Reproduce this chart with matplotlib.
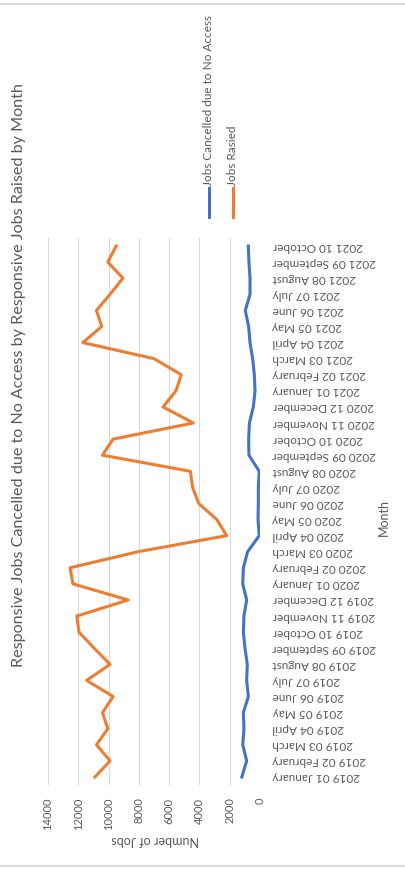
import matplotlib
matplotlib.use("Agg")
import matplotlib.pyplot as plt
from matplotlib.lines import Line2D

plt.rcParams['font.family'] = ['Lato', 'DejaVu Sans']

months = ["2019 01 January", "2019 02 February", "2019 03 March", "2019 04 April",
          "2019 05 May", "2019 06 June", "2019 07 July", "2019 08 August",
          "2019 09 September", "2019 10 October", "2019 11 November", "2019 12 December",
          "2020 01 January", "2020 02 February", "2020 03 March", "2020 04 April",
          "2020 05 May", "2020 06 June", "2020 07 July", "2020 08 August",
          "2020 09 September", "2020 10 October", "2020 11 November", "2020 12 December",
          "2021 01 January", "2021 02 February", "2021 03 March", "2021 04 April",
          "2021 05 May", "2021 06 June", "2021 07 July", "2021 08 August",
          "2021 09 September", "2021 10 October"]

jobs_raised = [10900, 9900, 10800, 10050, 10400, 9700, 11450, 9900, 10950, 11950,
               12100, 8700, 12350, 12550, 8050, 2200, 2850, 4050, 4450, 4600,
               10400, 9700, 4400, 6400, 5550, 5200, 7000, 11700, 10450, 10800,
               9900, 9050, 10050, 9500]

jobs_cancelled = [1200, 880, 1140, 1060, 1100, 770, 880, 840, 990, 1100,
                  1060, 880, 1140, 1100, 815, 50, 130, 110, 110, 50,
                  730, 750, 700, 440, 330, 375, 485, 660, 750, 970,
                  660, 660, 730, 770]

value_ticks = [0, 2000, 4000, 6000, 8000, 10000, 12000, 14000]

title = "Responsive Jobs Cancelled due to No Access by Responsive Jobs Raised by Month"
series_names = ["Jobs Cancelled due to No Access", "Jobs Rasied"]
BLUE = "#4472C4"
ORANGE = "#ED7D31"
GREY = "#595959"

W, H = 405, 869
fig = plt.figure(figsize=(W / 100, H / 100), dpi=100)

def fx(px):
    return px / W

def fy(py):
    return 1 - py / H

left, right, top, bottom = 48, 260, 238, 785
ax = fig.add_axes([fx(left), fy(bottom), fx(right - left), (bottom - top) / H])

idx = list(range(len(months)))
ax.plot(jobs_cancelled, idx, color=BLUE, lw=2.2, solid_joinstyle='round', zorder=3)
ax.plot(jobs_raised, idx, color=ORANGE, lw=2.2, solid_joinstyle='round', zorder=3)

ax.set_xlim(14000, 0)
ax.set_ylim(-0.5, len(months) - 0.5)
ax.set_xticks(value_ticks)
ax.set_xticklabels([str(v) for v in value_ticks], rotation=90, color=GREY, fontsize=8)
ax.tick_params(axis='x', length=0, pad=9)
ax.grid(axis='x', color='#D9D9D9', lw=0.8, zorder=0)
ax.set_axisbelow(True)

ax.yaxis.tick_right()
ax.set_yticks(idx)
ax.set_yticklabels(months, rotation=180, color=GREY, fontsize=8.5, ha='left', va='center')
ax.tick_params(axis='y', length=0, pad=9)

for s in ax.spines.values():
    s.set_visible(False)

# axis titles
fig.text(fx(155), fy(840), "Number of Jobs", rotation=180, color=GREY, fontsize=9,
         ha='center', va='center')
fig.text(fx(384), fy(518), "Month", rotation=90, color=GREY, fontsize=9,
         ha='center', va='center')

# title
fig.text(fx(19), fy(375), title, rotation=90, color=GREY, fontsize=11.6,
         ha='center', va='center')

# legend
for xpos, name, col in [(209, series_names[0], BLUE), (233, series_names[1], ORANGE)]:
    fig.add_artist(Line2D([fx(xpos), fx(xpos)], [fy(217), fy(188)], color=col, lw=2.2))
    fig.text(fx(xpos), fy(186), name, rotation=90, color=GREY, fontsize=8.5,
             ha='center', va='bottom')

# frame lines
fig.add_artist(Line2D([0, 1], [fy(4), fy(4)], color='#D9D9D9', lw=1.5))
fig.add_artist(Line2D([0, 1], [fy(866), fy(866)], color='#D9D9D9', lw=1.5))

fig.savefig("out.png", dpi=100, facecolor='white')
